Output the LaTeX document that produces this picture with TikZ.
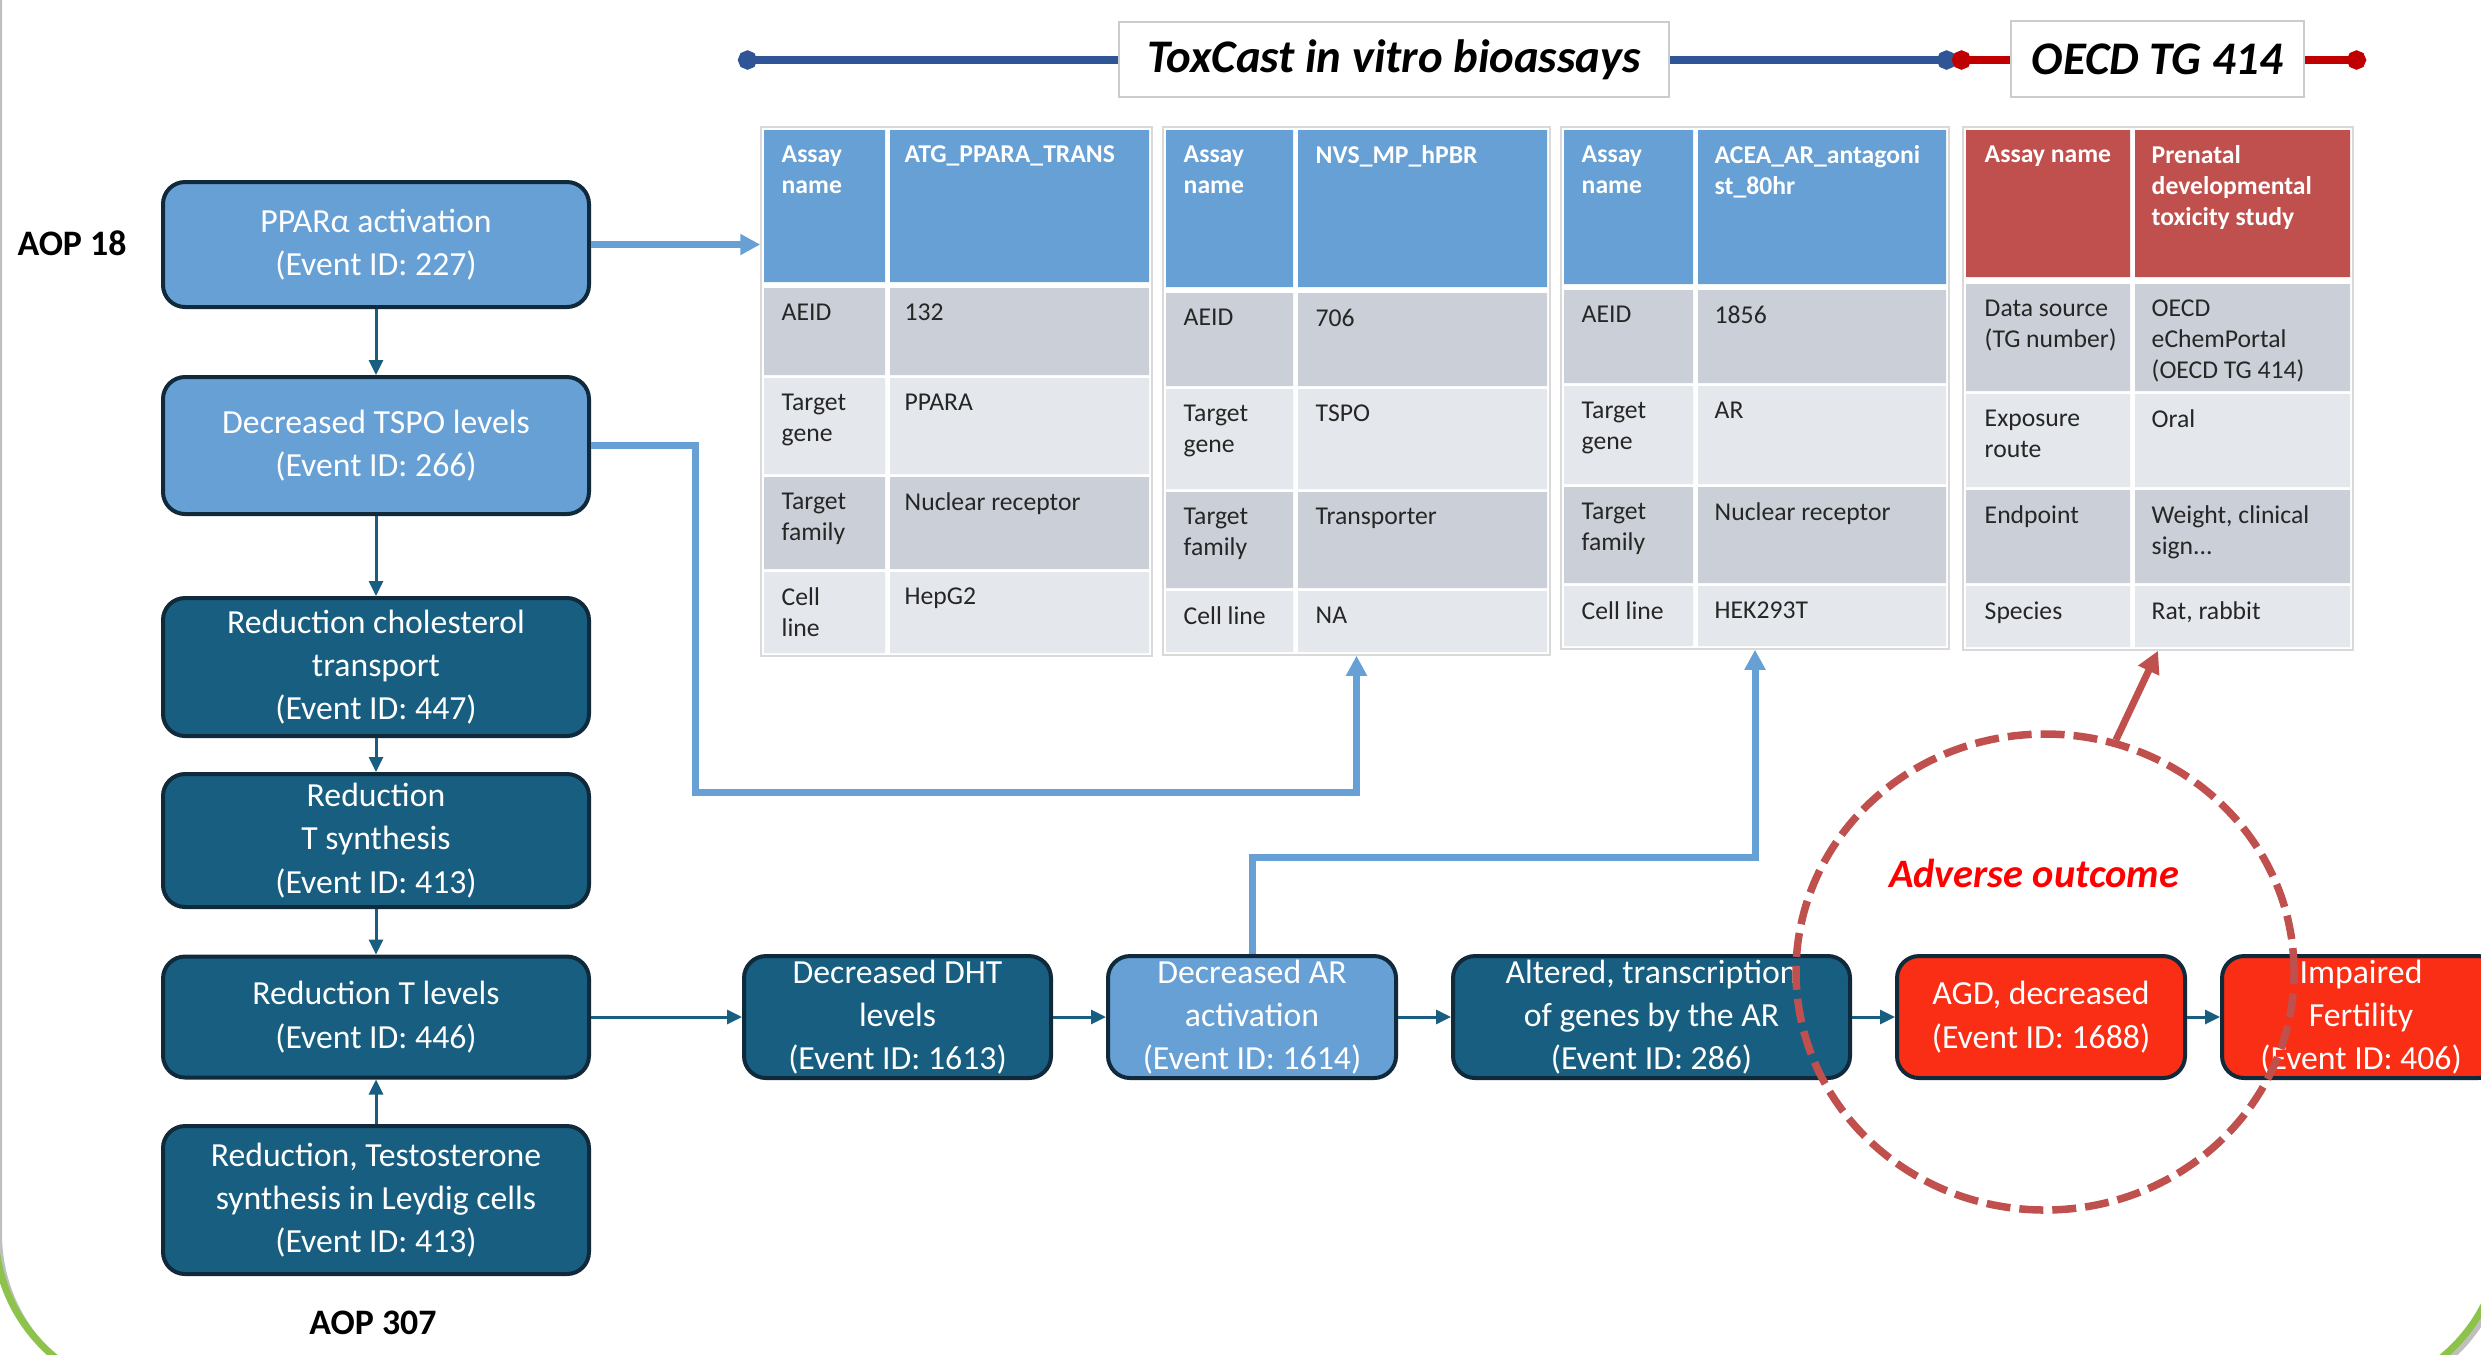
\documentclass[tikz,border=0pt]{standalone}
\usepackage{fontspec}
\setmainfont{Carlito}
\usetikzlibrary{arrows.meta,shapes.geometric}

\definecolor{evdarkc}{RGB}{23,94,128}
\definecolor{evlightc}{RGB}{103,160,213}
\definecolor{evredc}{RGB}{250,45,21}
\definecolor{boxline}{RGB}{16,42,60}
\definecolor{hdrblue}{RGB}{102,160,212}
\definecolor{hdrred}{RGB}{192,80,77}
\definecolor{rowdark}{RGB}{203,208,216}
\definecolor{rowlight}{RGB}{228,231,235}
\definecolor{linkblue}{RGB}{103,160,213}
\definecolor{tlblue}{RGB}{47,85,151}
\definecolor{tlred}{RGB}{192,0,0}
\definecolor{advc}{RGB}{192,80,77}
\definecolor{framegreen}{RGB}{141,195,74}

\newcommand\evfont{\fontsize{9.6}{12.3}\selectfont}
\newcommand\tabfont{\fontsize{7.3}{8.8}\selectfont}

\tikzset{
  evbox/.style={draw=boxline, line width=0.4mm, rounded corners=2.2mm, text=white, align=center, font=\evfont, inner sep=0pt},
  evdark/.style={evbox, fill=evdarkc},
  evlight/.style={evbox, fill=evlightc},
  evred/.style={evbox, fill=evredc},
  colbox/.style={minimum width=42.6mm},
  rowbox/.style={minimum height=12.2mm},
  evarrow/.style={->, draw=evdarkc, line width=0.3mm},
  tablink/.style={arrows={-Triangle[length=2mm,width=2mm]}, draw=linkblue, line width=0.7mm},
  advlink/.style={arrows={-Triangle[length=2.2mm,width=2.2mm]}, draw=advc, line width=0.7mm},
  tabframe/.style={draw=black!15, fill=white, line width=0.15mm, inner sep=0pt},
  cellt/.style={anchor=north west, inner sep=0pt, align=left, font=\tabfont, text=black!85},
  hdrt/.style={cellt, font=\tabfont\bfseries, text=white},
  ttlbox/.style={draw=black!20, fill=white, line width=0.15mm, inner sep=0pt, font=\fontsize{13.3}{15}\selectfont\bfseries\itshape},
  tlline/.style={line width=0.8mm, arrows={Circle[length=1.9mm]-Circle[length=1.9mm]}},
  aoplbl/.style={inner sep=0pt, font=\fontsize{10.2}{12}\selectfont\bfseries},
  advring/.style={ellipse, draw=advc, line width=0.75mm, dash pattern=on 2.4mm off 0.9mm, minimum width=49.8mm, minimum height=47.6mm, inner sep=0pt},
  advlbl/.style={inner sep=0pt, text=red, font=\fontsize{11.5}{13}\selectfont\bfseries\itshape}
}

\begin{document}
\begin{tikzpicture}[x=0.1mm, y=-0.1mm, >={Triangle[length=1.5mm,width=1.4mm]}]
\useasboundingbox (0,0) rectangle (2481,1354);

% slide frame
\draw[black!25, line width=0.6mm, rounded corners=16.5mm] (-1,-156) rectangle (2506,1399);
\draw[framegreen, line width=0.7mm, rounded corners=16.5mm] (-5,-160) rectangle (2502,1395);

% headings over the tables
\coordinate (tlA) at (738,60);
\coordinate (tlB) at (1956,60);
\coordinate (tlC) at (1952,60);
\coordinate (tlD) at (2366,60);
\draw[tlline, draw=tlblue] (tlA) -- (tlB);
\draw[tlline, draw=tlred] (tlC) -- (tlD);
\node[ttlbox, minimum width=55mm, minimum height=7.5mm] (toxcast) at (1394,59.5) {ToxCast in vitro bioassays};
\node[ttlbox, minimum width=29.3mm, minimum height=7.6mm] (oecd) at (2157.5,59) {OECD TG 414};

% table 1
\node[tabframe, minimum width=39.1mm, minimum height=52.9mm] (tab1) at (956.5,391.5) {};
\foreach \ya/\yb/\c in {130/282/hdrblue,288/375/rowdark,378/474/rowlight,477/569/rowdark,572/653/rowlight}
  \fill[\c] (764,\ya) rectangle (885,\yb) (890,\ya) rectangle (1149,\yb);
\node[hdrt] (t1hk) at (781,145) {Assay\\name};
\node[hdrt] (t1hv) at (904,145) {ATG\_PPARA\_TRANS};
\foreach \y/\k/\v [count=\i] in {303/AEID/132, 393/{Target\\gene}/PPARA, 492/{Target\\family}/{Nuclear receptor}, 587/{Cell\\line}/HepG2} {
  \node[cellt] (t1k\i) at (781,\y) {\k};
  \node[cellt] (t1v\i) at (904,\y) {\v};
}

% table 2
\node[tabframe, minimum width=38.7mm, minimum height=52.8mm] (tab2) at (1356.5,391) {};
\foreach \ya/\yb/\c in {130/287/hdrblue,293/386/rowdark,389/489/rowlight,492/588/rowdark,591/652/rowlight}
  \fill[\c] (1166,\ya) rectangle (1293,\yb) (1298,\ya) rectangle (1547,\yb);
\node[hdrt] (t2hk) at (1183,145) {Assay\\name};
\node[hdrt] (t2hv) at (1315,145) {NVS\_MP\_hPBR};
\foreach \y/\k/\v [count=\i] in {308/AEID/706, 404/{Target\\gene}/TSPO, 507/{Target\\family}/Transporter, 606/{Cell line}/NA} {
  \node[cellt] (t2k\i) at (1183,\y) {\k};
  \node[cellt] (t2v\i) at (1315,\y) {\v};
}

% table 3
\node[tabframe, minimum width=38.8mm, minimum height=52.2mm] (tab3) at (1755,388) {};
\foreach \ya/\yb/\c in {130/284/hdrblue,290/383/rowdark,386/484/rowlight,487/583/rowdark,586/646/rowlight}
  \fill[\c] (1564,\ya) rectangle (1693,\yb) (1698,\ya) rectangle (1946,\yb);
\node[hdrt] (t3hk) at (1581,145) {Assay\\name};
\node[hdrt] (t3hv) at (1714,145) {ACEA\_AR\_antagoni\\st\_80hr};
\foreach \y/\k/\v [count=\i] in {305/AEID/1856, 401/{Target\\gene}/AR, 502/{Target\\family}/{Nuclear receptor}, 601/{Cell line}/HEK293T} {
  \node[cellt] (t3k\i) at (1581,\y) {\k};
  \node[cellt] (t3v\i) at (1714,\y) {\v};
}

% table 4
\node[tabframe, minimum width=39mm, minimum height=52.3mm] (tab4) at (2158,388.5) {};
\foreach \ya/\yb/\c in {130/277/hdrred,284/391/rowdark,394/487/rowlight,490/583/rowdark,586/647/rowlight}
  \fill[\c] (1966,\ya) rectangle (2130,\yb) (2135,\ya) rectangle (2350,\yb);
\node[hdrt] (t4hk) at (1984,145) {Assay name};
\node[hdrt] (t4hv) at (2151,145) {Prenatal\\developmental\\toxicity study};
\foreach \y/\k/\v [count=\i] in {299/{Data source\\(TG number)}/{OECD\\eChemPortal\\(OECD TG 414)}, 409/{Exposure\\route}/Oral, 505/Endpoint/{Weight, clinical\\sign...}, 601/Species/{Rat, rabbit}} {
  \node[cellt] (t4k\i) at (1984,\y) {\k};
  \node[cellt] (t4v\i) at (2151,\y) {\v};
}

% key events, left column
\node[aoplbl] (aop18) at (72,243) {AOP 18};
\node[evlight, colbox, minimum height=12.5mm] (ppar) at (376,244.5) {PPARα activation\\(Event ID: 227)};
\node[evlight, colbox, minimum height=13.7mm] (tspo) at (376,445.5) {Decreased TSPO levels\\(Event ID: 266)};
\node[evdark, colbox, minimum height=13.8mm] (chol) at (376,667) {Reduction cholesterol\\transport\\(Event ID: 447)};
\node[evdark, colbox, minimum height=13.3mm] (tsyn) at (376,840.5) {Reduction\\T synthesis\\(Event ID: 413)};
\node[evdark, colbox, minimum height=12.1mm] (tlev) at (376,1017) {Reduction T levels\\(Event ID: 446)};
\node[evdark, colbox, minimum height=14.8mm] (leydig) at (376,1200) {Reduction, Testosterone\\synthesis in Leydig cells\\(Event ID: 413)};
\node[aoplbl] (aop307) at (373,1323) {AOP 307};

% key events, bottom row
\node[evdark, rowbox, minimum width=30.7mm] (dht) at (897.5,1017) {Decreased DHT\\levels\\(Event ID: 1613)};
\node[evlight, rowbox, minimum width=28.8mm] (aract) at (1252,1017) {Decreased AR\\activation\\(Event ID: 1614)};
\node[evdark, rowbox, minimum width=39.7mm] (altered) at (1651.5,1017) {Altered, transcription\\of genes by the AR\\(Event ID: 286)};
\node[evred, rowbox, minimum width=28.8mm] (agd) at (2041,1017) {AGD, decreased\\(Event ID: 1688)};
\node[evred, rowbox, minimum width=27.8mm] (impair) at (2361,1017) {Impaired\\Fertility\\(Event ID: 406)};

% event arrows
\draw[evarrow] (ppar) -- (tspo);
\draw[evarrow] (tspo) -- (chol);
\draw[evarrow] (chol) -- (tsyn);
\draw[evarrow] (tsyn) -- (tlev);
\draw[evarrow] (leydig) -- (tlev);
\draw[evarrow] (tlev) -- (dht);
\draw[evarrow] (dht) -- (aract);
\draw[evarrow] (aract) -- (altered);
\draw[evarrow] (altered) -- (agd);
\draw[evarrow] (agd) -- (impair);

% links to the assays
\coordinate (tspobend) at (695,792);
\draw[tablink] (ppar.east) -- (ppar.east -| tab1.west);
\draw[tablink] (tspo.east) -| (tspobend) -| (tab2.south);
\draw[tablink] (aract.north) -- ++(0,-97) -| (tab3.south);

% adverse outcome
\node[advring] (advring) at (2045,972) {};
\node[advlbl] (advtxt) at (2034,873) {Adverse outcome};
\draw[advlink] (advring.73) -- (tab4.south);
\end{tikzpicture}
\end{document}
